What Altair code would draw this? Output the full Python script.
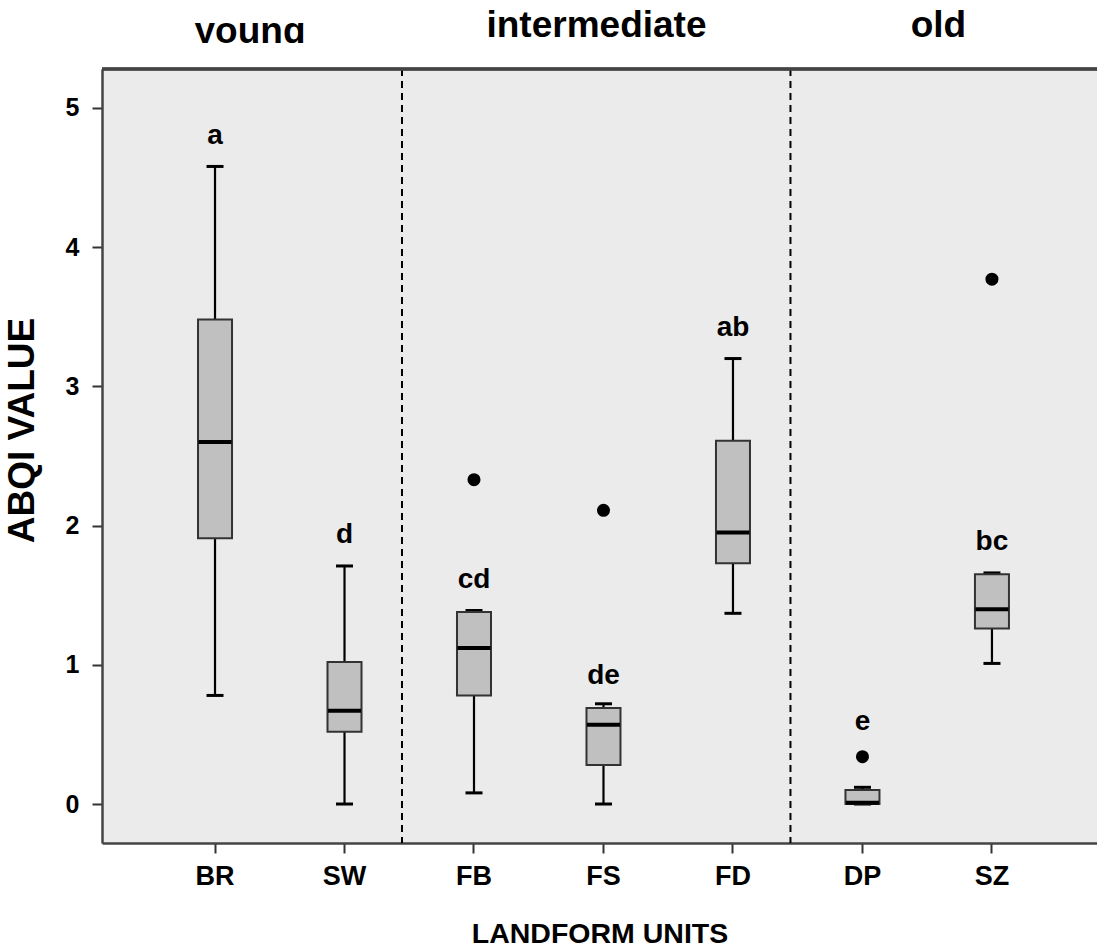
import altair as alt
import pandas as pd

# ---- data ----
units = ["BR", "SW", "FB", "FS", "FD", "DP", "SZ"]
whisker_low = [0.78, 0.00, 0.08, 0.00, 1.37, 0.00, 1.01]
q1 = [1.91, 0.52, 0.78, 0.28, 1.73, 0.00, 1.26]
median = [2.60, 0.67, 1.12, 0.57, 1.95, 0.01, 1.40]
q3 = [3.48, 1.02, 1.38, 0.69, 2.61, 0.10, 1.65]
whisker_high = [4.58, 1.71, 1.39, 0.72, 3.20, 0.12, 1.66]
letters = ["a", "d", "cd", "de", "ab", "e", "bc"]
letter_y = [4.80, 1.93, 1.61, 0.92, 3.42, 0.59, 1.88]
outlier_units = ["FB", "FS", "DP", "SZ"]
outlier_values = [2.33, 2.11, 0.34, 3.77]
separator_before = ["FB", "DP"]
y_ticks = [0, 1, 2, 3, 4, 5]

boxes = pd.DataFrame({
    "unit": units, "lo": whisker_low, "q1": q1, "med": median,
    "q3": q3, "hi": whisker_high, "letter": letters, "ly": letter_y,
})
outliers = pd.DataFrame({"unit": outlier_units, "v": outlier_values})
seps = pd.DataFrame({"unit": separator_before})

FONT = "Liberation Sans, Arial, Helvetica, sans-serif"

xscale = alt.Scale(domain=units, paddingInner=0, paddingOuter=0.342, align=0.545)
yscale = alt.Scale(domain=[-0.28, 5.28], nice=False, zero=False)

X = alt.X("unit:N", scale=xscale, sort=units,
          axis=alt.Axis(title="LANDFORM UNITS", labelAngle=0, ticks=True,
                        tickSize=10, tickWidth=2, tickColor="#333333",
                        labelFont=FONT, labelFontSize=27, labelFontWeight="bold",
                        labelColor="black", labelPadding=10,
                        titleFont=FONT, titleFontSize=28.5, titleFontWeight="bold",
                        titleColor="black", titlePadding=30,
                        domainColor="#444444", domainWidth=2.5, grid=False))

Yax = alt.Axis(title="ABQI VALUE", values=y_ticks, tickSize=10, tickWidth=2,
               tickColor="#333333", labelFont=FONT, labelFontSize=25,
               labelFontWeight="bold", labelColor="black", labelPadding=13,
               titleFont=FONT, titleFontSize=37, titleFontWeight="bold",
               titleColor="black", titlePadding=24, titleY=361,
               domainColor="#444444", domainWidth=2.5, grid=False)

base = alt.Chart(boxes)

frame_top = alt.Chart(boxes).mark_rule(color="#444444", strokeWidth=2.5).encode(
    y=alt.value(0))

separators = alt.Chart(seps).mark_rule(
    color="black", strokeWidth=2, strokeDash=[7, 5], xOffset=-72
).encode(x=X)

whisk_low = base.mark_rule(color="black", strokeWidth=2.2).encode(
    x=X, y=alt.Y("lo:Q", scale=yscale, axis=Yax), y2="q1:Q")
whisk_high = base.mark_rule(color="black", strokeWidth=2.2).encode(
    x=X, y=alt.Y("q3:Q", scale=yscale, axis=Yax), y2="hi:Q")
cap_low = base.mark_tick(color="black", size=17, thickness=3, opacity=1).encode(
    x=X, y=alt.Y("lo:Q", scale=yscale, axis=Yax))
cap_high = base.mark_tick(color="black", size=17, thickness=3, opacity=1).encode(
    x=X, y=alt.Y("hi:Q", scale=yscale, axis=Yax))
box = base.mark_bar(size=34, fill="#c0c0c0", stroke="#333333", strokeWidth=2,
                    opacity=1).encode(
    x=X, y=alt.Y("q1:Q", scale=yscale, axis=Yax), y2="q3:Q")
med = base.mark_tick(color="black", size=33, thickness=4, opacity=1).encode(
    x=X, y=alt.Y("med:Q", scale=yscale, axis=Yax))
pts = alt.Chart(outliers).mark_circle(color="black", size=170, opacity=1).encode(
    x=X, y=alt.Y("v:Q", scale=yscale, axis=Yax))
txt = base.mark_text(font=FONT, fontSize=28, fontWeight="bold", color="black",
                     baseline="middle").encode(
    x=X, y=alt.Y("ly:Q", scale=yscale, axis=Yax), text="letter:N")

grp_young = alt.Chart(pd.DataFrame({"unit": ["BR"], "g": ["young"]})).mark_text(
    font=FONT, fontSize=37, fontWeight="bold", color="black", dx=35,
    baseline="alphabetic").encode(x=X, y=alt.value(-26), text="g:N")
# the reference clips the descenders of "young"
young_clip = alt.Chart(pd.DataFrame({"unit": ["BR"], "u2": ["SW"]})).mark_rect(
    color="white", xOffset=-30, x2Offset=0).encode(
    x=X, x2="u2:N", y=alt.value(-26), y2=alt.value(-6))
grp_mid = alt.Chart(pd.DataFrame({"unit": ["FS"], "g": ["intermediate"]})).mark_text(
    font=FONT, fontSize=37, fontWeight="bold", color="black", dx=-7,
    baseline="alphabetic").encode(x=X, y=alt.value(-32), text="g:N")
grp_old = alt.Chart(pd.DataFrame({"unit": ["DP"], "g": ["old"]})).mark_text(
    font=FONT, fontSize=37, fontWeight="bold", color="black", dx=76,
    baseline="alphabetic").encode(x=X, y=alt.value(-32), text="g:N")

chart = alt.layer(
    separators, whisk_low, whisk_high, cap_low, cap_high, box, med, pts, txt,
    frame_top, grp_young, young_clip, grp_mid, grp_old
).properties(
    width=995, height=774,
    autosize=alt.AutoSizeParams(type="none"),
    padding={"left": 102, "top": 69, "right": 0, "bottom": 105},
    background="white",
).configure_view(fill="#ebebeb", stroke=None)

chart.save("out.html", embed_options={"renderer": "svg", "actions": False})
